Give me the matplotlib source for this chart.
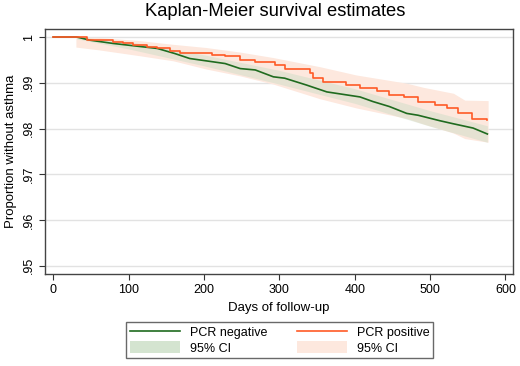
# Kaplan-Meier survival estimates, PCR negative vs PCR positive
import matplotlib.pyplot as plt
from matplotlib.lines import Line2D
from matplotlib.patches import Patch

plt.rcParams['font.family'] = ['Liberation Sans', 'DejaVu Sans']

# PCR negative (green)
neg_days = [0, 31, 49, 79, 111, 138, 161, 181, 228, 248, 268, 292, 307, 336,
            363, 407, 424, 446, 469, 484, 513, 529, 557, 576]
neg_surv = [1.0, 1.0, 0.9993, 0.9986, 0.9980, 0.9975, 0.9964, 0.9953, 0.9942,
            0.9931, 0.9928, 0.9913, 0.9910, 0.9895, 0.9880, 0.9869, 0.9859,
            0.9848, 0.9833, 0.9829, 0.9817, 0.9811, 0.9801, 0.9788]
neg_ci_days = [31, 100, 200, 300, 400, 500, 576]
neg_ci_hi = [1.0, 0.9990, 0.9961, 0.9927, 0.9887, 0.9839, 0.9806]
neg_ci_lo = [0.9996, 0.9974, 0.9937, 0.9897, 0.9855, 0.9805, 0.9770]

# PCR positive (orange)
pos_days = [0, 45, 79, 92, 106, 124, 138, 155, 168, 210, 228, 248, 268, 294,
            307, 340, 344, 358, 389, 407, 429, 446, 466, 484, 506, 523, 537,
            555, 576]
pos_surv = [1.0, 0.9993, 0.9988, 0.9986, 0.9983, 0.9979, 0.9975, 0.9969,
            0.9965, 0.9960, 0.9958, 0.9949, 0.9945, 0.9939, 0.9930, 0.9921,
            0.9911, 0.9901, 0.9895, 0.9888, 0.9881, 0.9874, 0.9869, 0.9858,
            0.9852, 0.9845, 0.9833, 0.9821, 0.9818]
pos_ci_days = [30, 60, 115, 159, 203, 248, 292, 354, 402, 469, 491, 531, 546, 577]
pos_ci_hi = [1.0, 0.9999, 0.9992, 0.9984, 0.9977, 0.9967, 0.9955, 0.9935,
             0.9917, 0.9899, 0.9890, 0.9877, 0.9862, 0.9861]
pos_ci_lo = [0.9978, 0.9972, 0.9959, 0.9948, 0.9930, 0.9915, 0.9897, 0.9865,
             0.9845, 0.9822, 0.9810, 0.9790, 0.9778, 0.9770]

green = '#1f6b1f'
orange = '#ff5a26'
green_ci = '#d4e4d0'
orange_ci = '#fde8de'

fig = plt.figure(figsize=(5.2, 3.66), dpi=100)
ax = fig.add_axes([45/520, 1-274/366, (513-45)/520, (274-29)/366])

ax.fill_between(pos_ci_days, pos_ci_lo, pos_ci_hi, color=orange_ci, lw=0)
ax.fill_between(neg_ci_days, neg_ci_lo, neg_ci_hi, color='#c8dcc4',
                alpha=0.45, lw=0)
ax.plot(neg_days, neg_surv, color=green, lw=1.2)
ax.step(pos_days, pos_surv, where='post', color=orange, lw=1.2)

ax.set_xlim(-11, 610)
ax.set_ylim(0.9482, 1.00175)
ax.set_xticks([0, 100, 200, 300, 400, 500, 600])
yt = [0.95, 0.96, 0.97, 0.98, 0.99, 1.0]
ax.set_yticks(yt)
ax.set_yticklabels(['.95', '.96', '.97', '.98', '.99', '1'], rotation=90, va='center')
ax.tick_params(labelsize=9, length=4, color='#333333')
ax.grid(axis='y', color='#e2e2e2', lw=1)
ax.set_axisbelow(True)
for s in ax.spines.values():
    s.set_color('#444444')
    s.set_linewidth(1)

ax.set_xlabel('Days of follow-up', fontsize=9.5)
ax.set_ylabel('Proportion without asthma', fontsize=9.5)
fig.text(275/520, 1-12/366, 'Kaplan-Meier survival estimates',
         ha='center', va='center', fontsize=13.2)

handles = [Line2D([], [], color=green, lw=1.2),
           Patch(facecolor=green_ci, edgecolor='none'),
           Line2D([], [], color=orange, lw=1.2),
           Patch(facecolor=orange_ci, edgecolor='none')]
labels = ['PCR negative', '95% CI', 'PCR positive', '95% CI']
leg = fig.legend(handles, labels, ncol=2, loc='center',
                 bbox_to_anchor=(279.5/520, 1-340/366), fontsize=9,
                 fancybox=False, edgecolor='#444444', handlelength=4,
                 handleheight=1.1, columnspacing=2.4, labelspacing=0.2,
                 borderpad=0.3)
leg.get_frame().set_linewidth(1)

plt.savefig('out.png')
